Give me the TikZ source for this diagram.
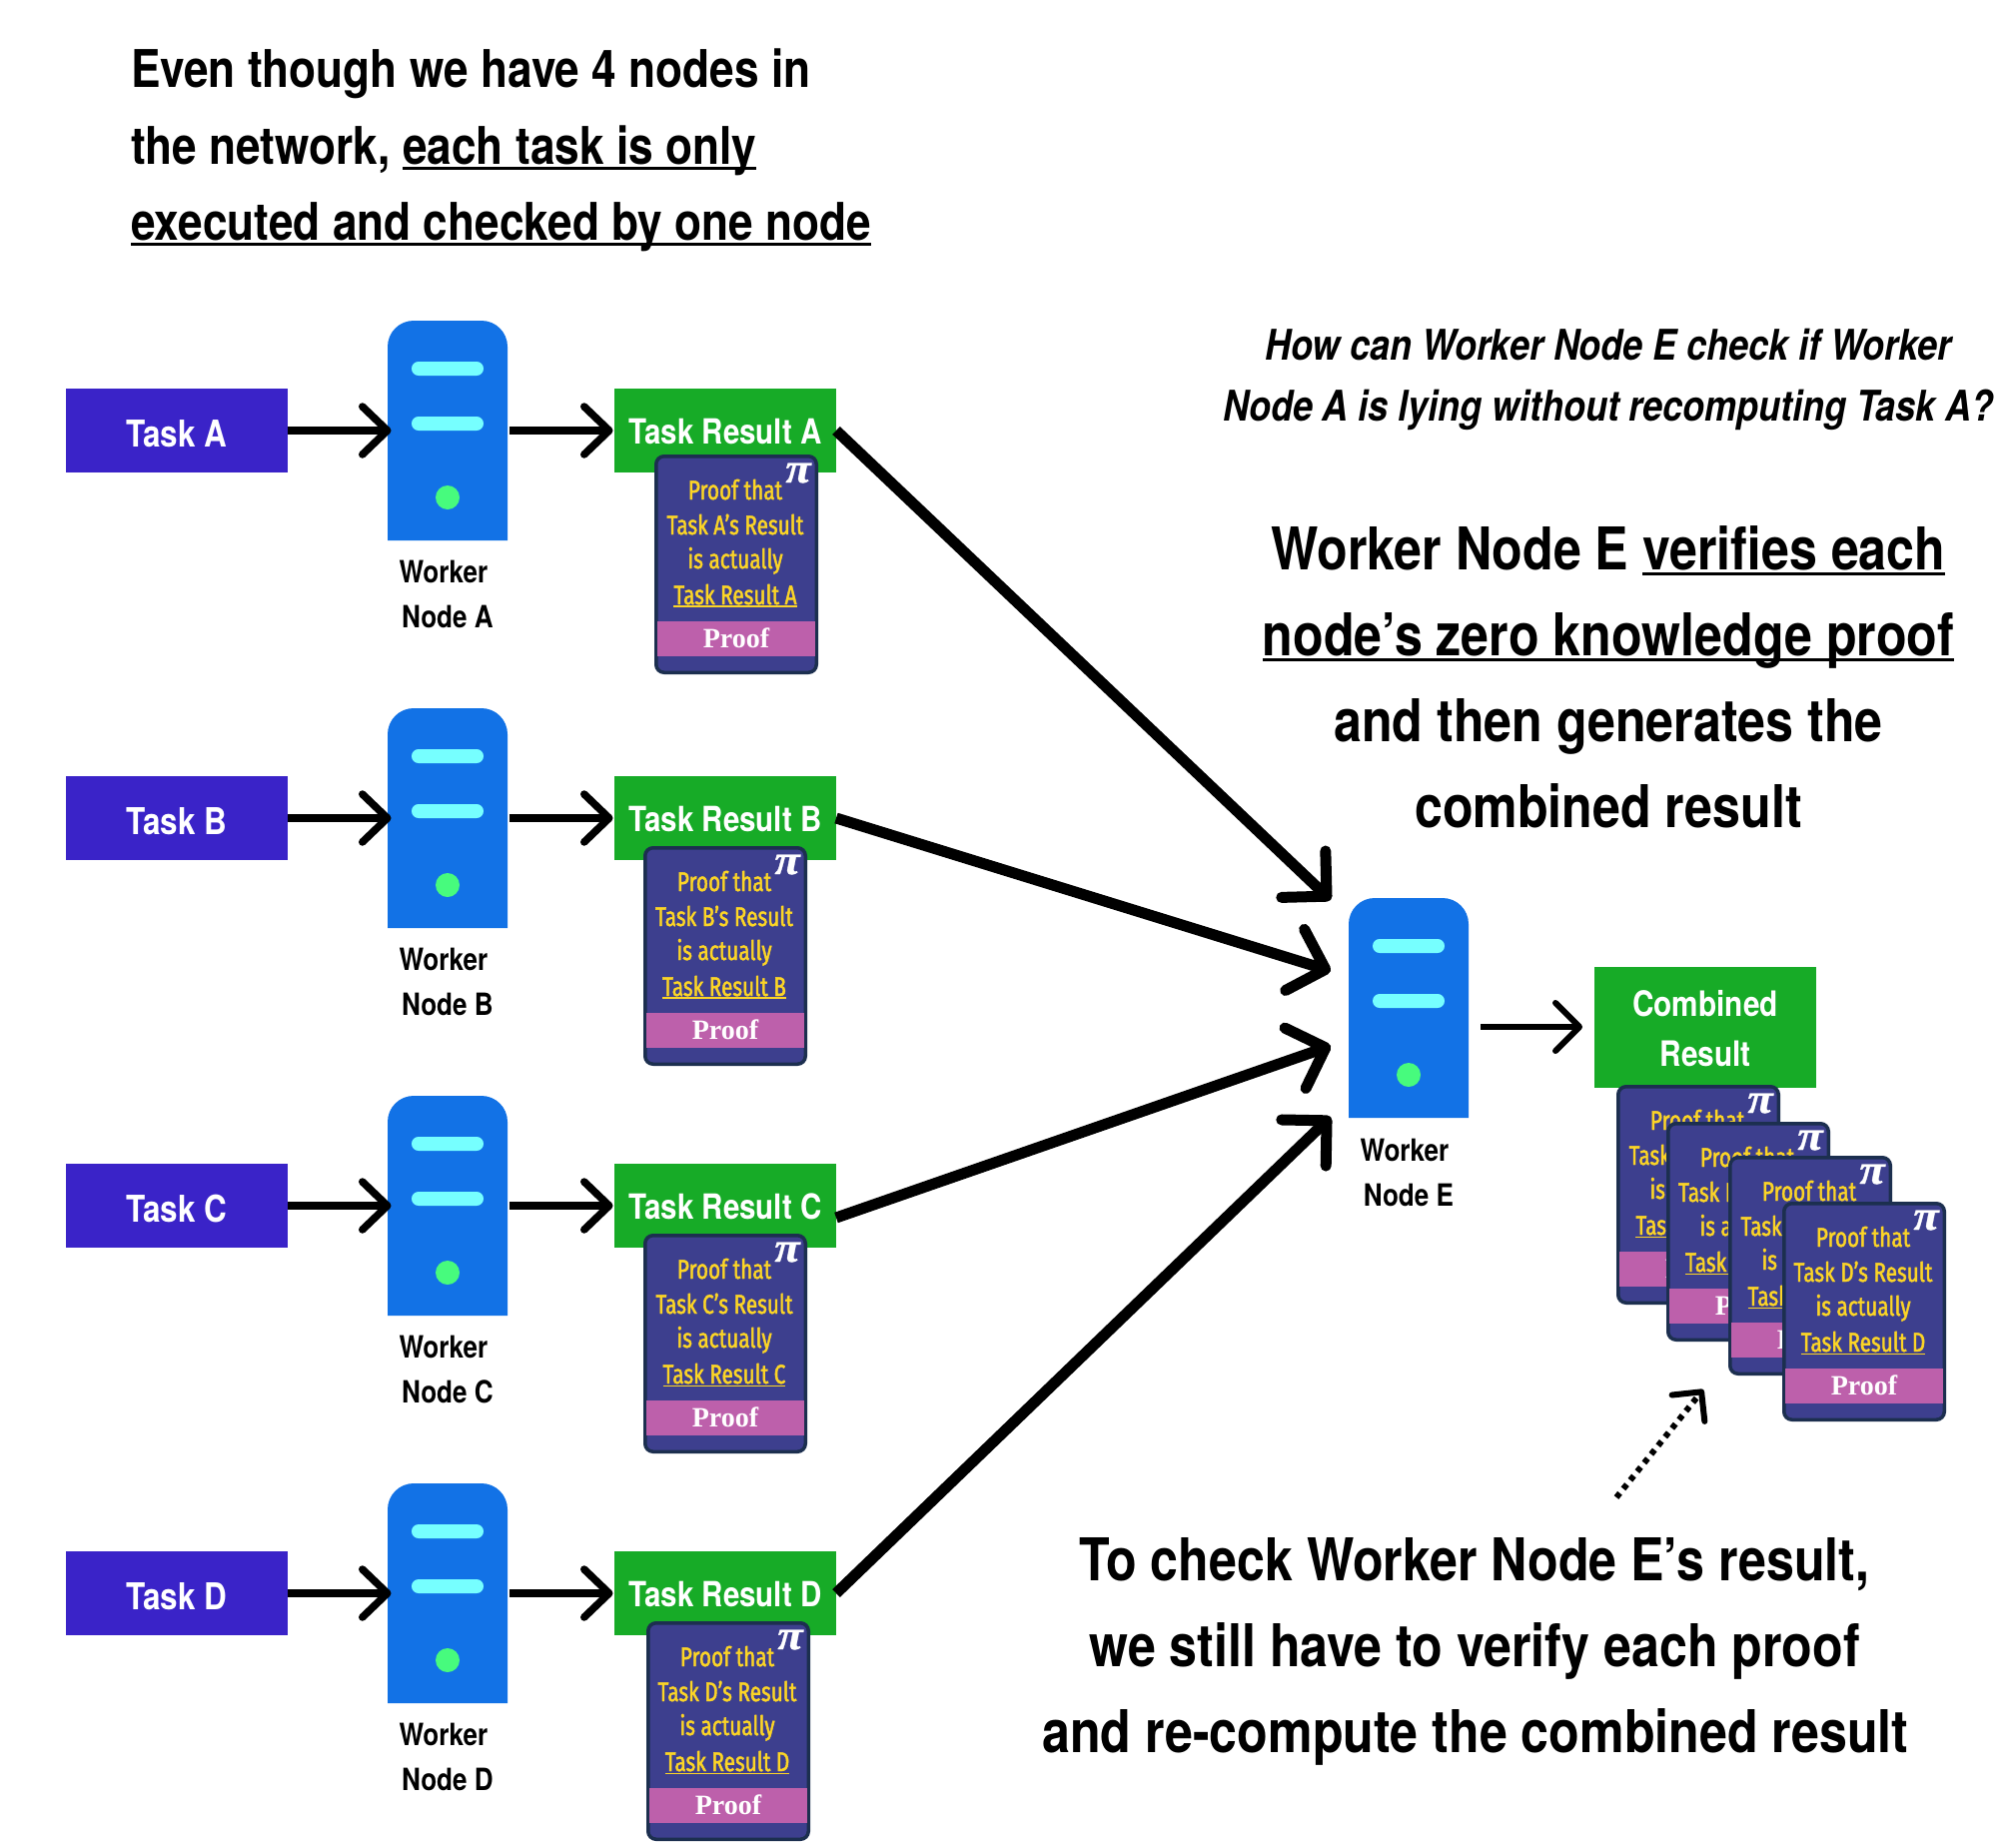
\documentclass[tikz,border=0pt]{standalone}
\usepackage{fontspec}
\usetikzlibrary{arrows.meta}
\newfontfamily\hv[FakeStretch=0.85]{TeX Gyre Heros}
\newfontfamily\prf[FakeStretch=0.77,FakeBold=1.6]{Fira Sans}
\newfontfamily\srf{Liberation Serif}
\newfontfamily\pifont[FakeStretch=1.1,FakeBold=0.8]{Liberation Serif}
\newcommand\fsz[1]{\fontsize{#1}{#1}\selectfont}
\newcommand\myul[1]{\setbox0\hbox{#1}\rlap{\rule[-0.11em]{\wd0}{0.055em}}\box0}
\definecolor{taskblue}{HTML}{3A23C8}
\definecolor{resgreen}{HTML}{17AB27}
\definecolor{srvblue}{HTML}{1272E6}
\definecolor{srvbar}{HTML}{76FFFF}
\definecolor{srvdot}{HTML}{47FB7D}
\definecolor{cardfill}{HTML}{3D3F8E}
\definecolor{cardline}{HTML}{1C2F4F}
\definecolor{cardband}{HTML}{BD60AB}
\definecolor{cardtext}{HTML}{FCD526}
\tikzset{
  txt/.style={inner sep=0pt,outer sep=0pt,anchor=base,align=center},
  taskbox/.style={rectangle,fill=taskblue,minimum width=222pt,minimum height=84pt,inner sep=0pt,outer sep=0pt},
  tasktext/.style={txt,text=white,font=\hv\bfseries\fsz{37}},
  resbox/.style={rectangle,fill=resgreen,minimum width=222pt,minimum height=84pt,inner sep=0pt,outer sep=0pt},
  restext/.style={txt,text=white,font=\hv\bfseries\fsz{34.7}},
  srvshape/.style={rectangle,minimum width=120pt,minimum height=220pt,inner sep=0pt,outer sep=0pt},
  srvlabel/.style={txt,text=black,font=\hv\bfseries\fsz{30.7}},
  cardbox/.style={rectangle,rounded corners=8pt,fill=cardfill,draw=cardline,line width=3.5pt,minimum width=160.5pt,minimum height=216.5pt,inner sep=0pt,outer sep=0pt,anchor=north west},
  cardbandbox/.style={rectangle,fill=cardband,minimum width=158pt,minimum height=35pt,inner sep=0pt,outer sep=0pt},
  cardtxt/.style={txt,text=cardtext,font=\prf\fsz{27}},
  cardproof/.style={txt,text=white,font=\srf\bfseries\fsz{28}},
  cardpi/.style={txt,text=white,font=\pifont\bfseries\itshape\fsz{42}},
  smallarrow/.style={line width=7.5pt,-{Straight Barb[length=25pt,width=48pt,round]}},
  bigarrow/.style={line width=11pt,-{Straight Barb[length=32pt,width=64pt,round]}},
  midarrow/.style={line width=6pt,-{Straight Barb[length=24pt,width=48pt,round]}},
  dotarrow/.style={line width=6pt,dash pattern=on 5.5pt off 5.6pt,-{Straight Barb[length=21pt,width=42pt,round]}},
  bigtxt/.style={txt,text=black,font=\hv\bfseries\fsz{59}},
  toptxt/.style={txt,anchor=base west,text=black,font=\hv\bfseries\fsz{52}},
  qtxt/.style={txt,text=black,font=\hv\bfseries\itshape\fsz{42.3}},
}
% name, left, top, A-D letter
\newcommand\proofcard[4]{%
  \begin{scope}[shift={(#2,#3)}]
    \node[cardbox] (#1) at (1.75,1.75) {};
    \node[cardbandbox] (#1band) at (82,184.5) {};
    \node[cardtxt] (#1l1) at (81,45) {Proof that};
    \node[cardtxt] (#1l2) at (81,80) {Task #4’s Result};
    \node[cardtxt] (#1l3) at (81,114) {is actually};
    \node[cardtxt] (#1l4) at (81,150) {\myul{Task Result #4}};
    \node[cardproof] (#1p) at (82,193) {Proof};
    \node[cardpi] (#1pi) at (144,28) {π};
  \end{scope}}
% name, left, top
\newcommand\serverbox[3]{%
  \begin{scope}[shift={(#2,#3)}]
    \node[srvshape] (#1) at (60,110) {};
    \fill[srvblue,rounded corners=26pt] (0,220) -- (0,0) -- (120,0) -- (120,220);
    \fill[srvbar,rounded corners=6.9pt] (24,41) rectangle (96,55);
    \fill[srvbar,rounded corners=6.9pt] (24,96) rectangle (96,110);
    \fill[srvdot] (60,177) circle (12pt);
  \end{scope}}
% letter, row top, card left, card top
\newcommand\workrow[4]{%
  \begin{scope}[shift={(0,#2)}]
    \node[taskbox] (task#1) at (177,42) {};
    \node[resbox] (res#1) at (726,42) {};
    \node[tasktext] (taskt#1) at (177,58) {Task #1};
  \end{scope}
  \serverbox{srv#1}{388}{\numexpr#2-68\relax}
  \begin{scope}[shift={(0,#2)}]
    \node[restext] (rest#1) at (726,55) {Task Result #1};
    \node[srvlabel] (wl#1) at (444,194) {Worker};
    \node[srvlabel] (nl#1) at (448,239) {Node #1};
  \end{scope}
  \draw[smallarrow] (task#1.east) -- ([xshift=3.5pt]srv#1.west);
  \draw[smallarrow] ([xshift=2pt]srv#1.east) -- ([xshift=-1.5pt]res#1.west);
  \proofcard{card#1}{#3}{#4}{#1}}
\begin{document}
\begin{tikzpicture}[x=1pt,y=-1pt]
\useasboundingbox (0,0) rectangle (2018,1844);
\fill[white] (0,0) rectangle (2018,1844);
\node[toptxt] (t1) at (131,88) {Even though we have 4 nodes in};
\node[toptxt] (t2) at (131,164) {the network, \myul{each task is only}};
\node[toptxt] (t3) at (131,240) {\myul{executed and checked by one node}};
\workrow{A}{389}{655}{455}
\workrow{B}{777}{644}{847}
\workrow{C}{1165}{644}{1235}
\workrow{D}{1553}{647}{1623}
\serverbox{srvE}{1350}{899}
\node[srvlabel] (wlE) at (1406,1162) {Worker};
\node[srvlabel] (nlE) at (1410,1207) {Node E};
\coordinate (tipA) at (1332,901);
\coordinate (tipB) at (1332,972);
\coordinate (tipC) at (1332,1047);
\coordinate (tipD) at (1332,1118);
\coordinate (startC) at (837,1219);
\coordinate (combstart) at (1482,1028);
\coordinate (combtip) at (1584,1028);
\coordinate (dotstart) at (1618,1499);
\coordinate (dottip) at (1705,1391);
\draw[bigarrow] (resA.east) -- (tipA);
\draw[bigarrow] (resB.east) -- (tipB);
\draw[bigarrow] (startC) -- (tipC);
\draw[bigarrow] (resD.east) -- (tipD);
\node[resbox,minimum height=121pt] (comb) at (1707,1028.5) {};
\node[restext,font=\hv\bfseries\fsz{35}] (comb1) at (1707,1017) {Combined};
\node[restext,font=\hv\bfseries\fsz{35}] (comb2) at (1707,1067) {Result};
\draw[midarrow] (combstart) -- (combtip);
\proofcard{stackA}{1618}{1086}{A}
\proofcard{stackB}{1668}{1123}{B}
\proofcard{stackC}{1730}{1157}{C}
\proofcard{stackD}{1784}{1203}{D}
\draw[dotarrow] (dotstart) -- (dottip);
\node[qtxt] (q1) at (1610,360) {How can Worker Node E check if Worker};
\node[qtxt] (q2) at (1610,421) {Node A is lying without recomputing Task A?};
\node[bigtxt] (b1) at (1610,570) {Worker Node E \myul{verifies each}};
\node[bigtxt] (b2) at (1610,656) {\myul{node’s zero knowledge proof}};
\node[bigtxt] (b3) at (1610,742) {and then generates the};
\node[bigtxt] (b4) at (1610,828) {combined result};
\node[bigtxt] (c1) at (1476,1582) {To check Worker Node E’s result,};
\node[bigtxt] (c2) at (1476,1668) {we still have to verify each proof};
\node[bigtxt] (c3) at (1477,1754) {and re-compute the combined result};
\end{tikzpicture}
\end{document}
